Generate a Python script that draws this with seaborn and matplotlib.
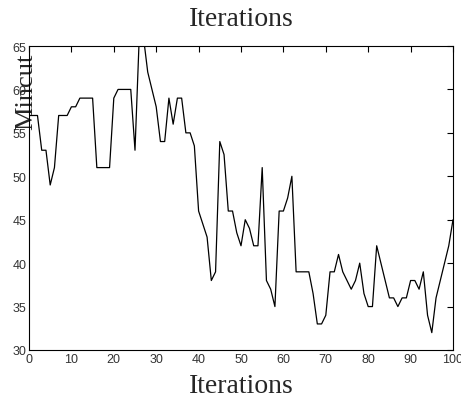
import numpy as np
import pandas as pd
import matplotlib
matplotlib.use("Agg")
import matplotlib.pyplot as plt
import seaborn as sns

# Mincut value per iteration
iterations = list(range(0, 101))
mincut = [
    57, 57, 57, 53, 53, 49, 51, 57, 57, 57,   # 0-9
    58, 58, 59, 59, 59, 59, 51, 51, 51, 51,   # 10-19
    59, 60, 60, 60, 60, 53, 66, 66, 62, 60,   # 20-29
    58, 54, 54, 59, 56, 59, 59, 55, 55, 53.5, # 30-39
    46, 44.5, 43, 38, 39, 54, 52.5, 46, 46, 43.5,  # 40-49
    42, 45, 44, 42, 42, 51, 38, 37, 35, 46,   # 50-59
    46, 47.5, 50, 39, 39, 39, 39, 36.5, 33, 33,  # 60-69
    34, 39, 39, 41, 39, 38, 37, 38, 40, 36.5, # 70-79
    35, 35, 42, 40, 38, 36, 36, 35, 36, 36,   # 80-89
    38, 38, 37, 39, 34, 32, 36, 38, 40, 42,   # 90-99
    45,                                       # 100
]
x_ticks = [0, 10, 20, 30, 40, 50, 60, 70, 80, 90, 100]
y_ticks = [30, 35, 40, 45, 50, 55, 60, 65]

df = pd.DataFrame({"Iterations": iterations, "Mincut": mincut})

sns.set_style("white")
plt.rcParams["font.family"] = ["Liberation Serif", "DejaVu Serif"]

fig = plt.figure(figsize=(4.61, 4.06), dpi=100)
ax = fig.add_axes([29 / 461, 1 - 351 / 406, 424 / 461, 304 / 406])

sns.lineplot(data=df, x="Iterations", y="Mincut", ax=ax,
             color="black", linewidth=0.9)

ax.set_xlim(0, 100)
ax.set_ylim(30, 65)
ax.set_xticks(x_ticks)
ax.set_yticks(y_ticks)
ax.tick_params(direction="in", length=4, width=0.8, top=True, right=True,
               colors="black", pad=2)
for lab in ax.get_xticklabels() + ax.get_yticklabels():
    lab.set_family(["Liberation Sans", "DejaVu Sans"])
    lab.set_fontsize(9)
    lab.set_color("#333333")

for s in ax.spines.values():
    s.set_visible(True)
    s.set_color("black")
    s.set_linewidth(0.8)

ax.set_title("Iterations", fontsize=20, pad=15)
ax.set_xlabel("Iterations", fontsize=20, labelpad=6)
ax.set_ylabel("Mincut", fontsize=19)
ax.yaxis.set_label_coords(0.019, 0.852)

fig.savefig("out.png", dpi=100)
